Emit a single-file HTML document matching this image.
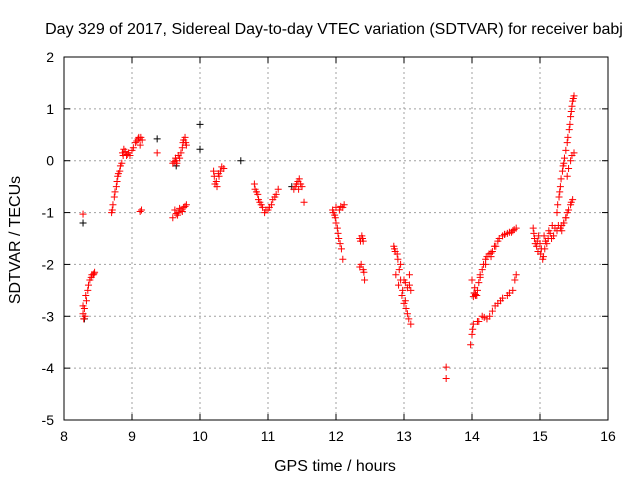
<!DOCTYPE html>
<html><head><meta charset="utf-8"><style>
body{margin:0;background:#fff}
svg{display:block;font-family:"Liberation Sans",sans-serif}
</style></head><body>
<svg id="chart" width="640" height="480">
<text x="334" y="34" font-size="16" text-anchor="middle">Day 329 of 2017, Sidereal Day-to-day VTEC variation (SDTVAR) for receiver babj</text>
<text x="335" y="471" font-size="16" text-anchor="middle">GPS time / hours</text>
<text x="20" y="240" font-size="16" text-anchor="middle" transform="rotate(-90 20 240)">SDTVAR / TECUs</text>
<g id="grid"></g><g id="ticks"></g><g id="marks"></g>
<rect x="64" y="57" width="544" height="363" fill="none" stroke="#000" stroke-width="1"/>
</svg>
<script>
const xTicks=[8,9,10,11,12,13,14,15,16];
const yTicks=[2,1,0,-1,-2,-3,-4,-5];
const redX=[8.28,8.28,8.28,8.29,8.3,8.31,8.33,8.35,8.38,8.4,8.43,8.45,
8.7,8.72,8.75,8.78,8.8,8.83,8.86,8.88,8.92,8.95,9.0,9.05,9.1,9.15,9.12,9.14,9.37,
9.6,9.65,9.7,9.72,9.75,9.78,9.8,9.6,9.63,9.68,9.72,9.76,9.8,
10.2,10.22,10.25,10.28,10.3,10.35,
10.8,10.83,10.86,10.9,10.95,11.0,11.05,11.1,11.15,
11.38,11.42,11.46,11.5,11.53,
11.95,11.98,12.0,12.03,12.06,12.1,12.05,12.1,12.12,12.0,
12.35,12.38,12.4,12.35,12.4,12.42,
12.85,12.9,12.95,12.88,12.92,12.97,13.0,13.05,13.1,13.0,13.05,13.1,
13.62,13.62,
13.98,14.0,14.02,14.08,14.15,14.22,14.3,14.38,14.45,14.52,14.6,14.65,
14.0,14.03,14.07,14.1,14.15,14.2,14.25,14.3,14.38,14.45,14.52,14.6,14.65,
14.9,14.92,14.95,14.98,15.02,15.05,15.08,15.12,15.15,15.2,15.25,15.3,15.35,15.4,15.45,15.48,
15.25,15.28,15.3,15.33,15.36,15.4,15.43,15.45,15.47,15.5,15.4,15.45,15.5,
8.32,8.36,8.41,8.44,8.71,8.74,8.77,8.79,8.82,8.85,8.87,8.9,8.93,8.97,9.02,9.07,9.09,9.12,9.13,
9.62,9.64,9.66,9.68,9.74,9.76,9.79,9.65,9.7,9.74,9.78,9.67,
10.21,10.24,10.27,10.32,10.81,10.85,10.88,10.92,10.97,11.02,11.07,11.12,11.4,11.44,11.48,11.45,
11.96,11.99,12.02,12.04,12.08,12.07,12.36,12.39,12.37,12.41,
12.86,12.87,12.91,12.93,12.95,12.98,13.02,13.03,13.07,13.08,13.02,13.08,
14.01,14.04,14.05,14.1,14.12,14.18,14.2,14.26,14.28,14.34,14.35,14.42,14.48,14.55,14.58,14.63,
14.02,14.05,14.08,14.12,14.17,14.22,14.28,14.33,14.4,14.48,14.55,14.62,
14.91,14.93,14.96,14.97,15.0,15.01,15.04,15.06,15.07,15.1,15.13,15.17,15.18,15.22,15.27,15.32,15.38,15.42,15.46,
15.26,15.29,15.31,15.34,15.35,15.38,15.41,15.44,15.46,15.48,15.49,15.42,15.47,15.32,15.35,15.38];
const redY=[-1.03,-2.95,-2.8,-3.05,-2.85,-3.0,-2.7,-2.5,-2.3,-2.25,-2.2,-2.15,
-1.0,-0.85,-0.6,-0.4,-0.25,-0.1,0.15,0.22,0.1,0.15,0.2,0.35,0.45,0.4,-0.98,-0.95,0.15,
-0.05,0.0,0.05,0.15,0.35,0.45,0.3,-1.1,-0.95,-1.0,-0.95,-0.9,-0.85,
-0.2,-0.45,-0.5,-0.3,-0.2,-0.15,
-0.45,-0.6,-0.75,-0.85,-1.0,-0.95,-0.85,-0.7,-0.55,
-0.55,-0.45,-0.35,-0.5,-0.8,
-0.95,-1.05,-1.2,-1.4,-1.6,-1.9,-0.95,-0.9,-0.85,-0.9,
-1.5,-1.45,-1.55,-2.05,-2.1,-2.3,
-1.65,-1.8,-2.0,-2.2,-2.4,-2.6,-2.75,-2.95,-3.15,-2.3,-2.45,-2.5,
-3.98,-4.2,
-3.55,-3.35,-3.15,-3.1,-3.0,-3.05,-2.9,-2.75,-2.65,-2.6,-2.5,-2.2,
-2.3,-2.55,-2.6,-2.35,-2.1,-1.9,-1.8,-1.75,-1.55,-1.45,-1.4,-1.35,-1.3,
-1.3,-1.5,-1.65,-1.45,-1.7,-1.85,-1.55,-1.5,-1.4,-1.45,-1.35,-1.3,-1.2,-1.0,-0.85,-0.75,
-1.0,-0.7,-0.5,-0.2,0.05,0.35,0.6,0.85,1.05,1.25,-0.3,0.0,0.15,
-2.6,-2.4,-2.2,-2.18,-0.95,-0.7,-0.5,-0.3,-0.2,-0.05,0.1,0.18,0.12,0.1,0.25,0.38,0.42,0.3,0.45,
-0.02,0.05,-0.05,0.1,0.25,0.4,0.35,-1.02,-0.92,-0.98,-0.88,-1.05,
-0.3,-0.4,-0.25,-0.12,-0.55,-0.65,-0.8,-0.9,-0.95,-0.9,-0.75,-0.65,-0.5,-0.4,-0.45,-0.55,
-1.0,-1.1,-1.3,-1.5,-1.7,-0.88,-1.55,-1.5,-2.0,-2.15,
-1.7,-1.75,-1.9,-2.1,-2.3,-2.5,-2.7,-2.85,-3.05,-2.2,-2.35,-2.4,
-3.25,-2.45,-2.6,-3.1,-2.25,-3.02,-2.0,-3.0,-1.85,-2.8,-1.65,-2.7,-1.42,-2.55,-1.38,-2.3,
-2.62,-2.58,-2.5,-2.2,-2.0,-1.85,-1.78,-1.65,-1.5,-1.42,-1.38,-1.33,
-1.4,-1.6,-1.55,-1.75,-1.6,-1.8,-1.9,-1.45,-1.7,-1.6,-1.35,-1.5,-1.25,-1.3,-1.25,-1.35,-1.1,-0.95,-0.8,
-0.85,-0.6,-0.35,-0.1,-0.05,0.2,0.45,0.7,0.95,1.15,1.2,-0.15,0.1,-1.25,-1.2,-1.1];
const blackX=[8.28,8.3,9.37,9.65,10.0,10.0,10.6,11.35];
const blackY=[-1.2,-3.05,0.42,-0.1,0.7,0.22,0.0,-0.5];
const NS="http://www.w3.org/2000/svg";
const X0=64,X1=608,Y0=57,Y1=420;
const sx=h=>X0+(h-8)/8*(X1-X0);
const sy=v=>Y0+(2-v)/7*(Y1-Y0);
const grid=document.getElementById('grid'),ticks=document.getElementById('ticks'),marks=document.getElementById('marks');
function mk(tag,attrs,parent){const e=document.createElementNS(NS,tag);for(const k in attrs)e.setAttribute(k,attrs[k]);parent.appendChild(e);return e;}
xTicks.forEach(t=>{const x=sx(t);
 if(t>8&&t<16){const g=mk('line',{x1:x,x2:x,y1:Y0,y2:Y1,stroke:'#a0a0a0','stroke-dasharray':'2,3'},grid);
 
 }
 const l=mk('line',{x1:x,x2:x,y1:Y1,y2:Y1-6,stroke:'#000'},ticks);
 
 
 const l2=mk('line',{x1:x,x2:x,y1:Y0,y2:Y0+6,stroke:'#000'},ticks);
 
 
 const tx=mk('text',{x:x,y:Y1+21,'font-size':14,'text-anchor':'middle'},ticks);tx.textContent=t;
 
 });
yTicks.forEach(t=>{const y=sy(t);
 if(t<2&&t>-5){const g=mk('line',{x1:X0,x2:X1,y1:y,y2:y,stroke:'#a0a0a0','stroke-dasharray':'2,3'},grid);
 
 }
 const l=mk('line',{x1:X0,x2:X0+6,y1:y,y2:y,stroke:'#000'},ticks);
 
 
 const l2=mk('line',{x1:X1,x2:X1-6,y1:y,y2:y,stroke:'#000'},ticks);
 
 
 const tx=mk('text',{x:X0-10,y:y+5,'font-size':14,'text-anchor':'end'},ticks);tx.textContent=t;
 
 });
function plus(h,v,color){const x=sx(h),y=sy(v);
 const p=mk('path',{d:`M${x-3.5} ${y}H${x+3.5}M${x} ${y-3.5}V${y+3.5}`,stroke:color,'stroke-width':1,fill:'none'},marks);
 
 }
blackX.forEach((h,i)=>plus(h,blackY[i],'#000'));
redX.forEach((h,i)=>plus(h,redY[i],'#f00'));
</script>
</body></html>
